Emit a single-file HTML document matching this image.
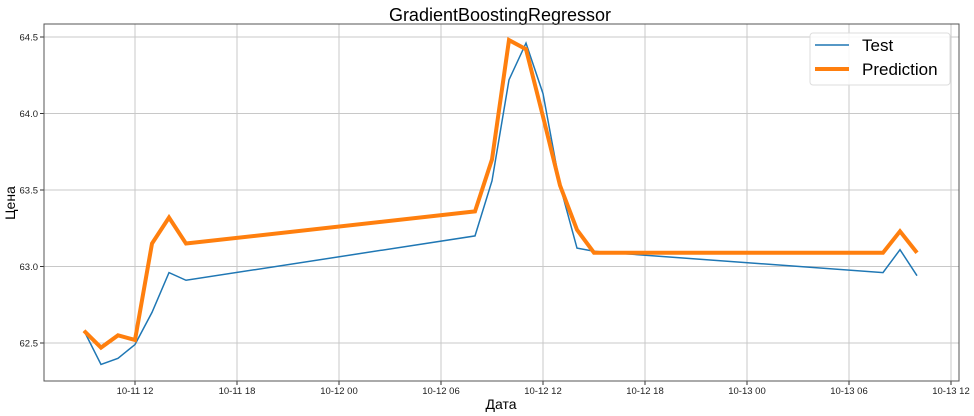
<!DOCTYPE html>
<html><head><meta charset="utf-8"><style>
body{margin:0;background:#fff;}
svg{font-family:"Liberation Sans","DejaVu Sans",sans-serif;display:block}
</style></head><body>
<svg id="chart" width="974" height="416">
<text x="500" y="21" text-anchor="middle" font-size="18">GradientBoostingRegressor</text>
<g id="grid"></g>
<g id="series"></g>
<rect x="44" y="24" width="915" height="357" fill="none" stroke="#555" stroke-width="1"/>
<text x="501" y="409" text-anchor="middle" font-size="14">Дата</text>
<text transform="translate(15,203) rotate(-90)" text-anchor="middle" font-size="14">Цена</text>
<g>
<rect x="810" y="33" width="140" height="52" rx="3" fill="#fff" fill-opacity="0.85" stroke="#ddd"/>
<line x1="815" y1="45" x2="849" y2="45" stroke="#1f77b4" stroke-width="1.5"/>
<text x="862" y="51" font-size="17">Test</text>
<line x1="815" y1="69" x2="849" y2="69" stroke="#ff7f0e" stroke-width="4"/>
<text x="862" y="75" font-size="17">Prediction</text>
</g>
</svg>
<script>
const hours = [-3,-2,-1,0,1,2,3,20,21,22,23,24,25,26,27,28,44,45,46];
const testValues = [62.58,62.36,62.40,62.49,62.70,62.96,62.91,63.20,63.56,64.22,64.46,64.13,63.53,63.12,63.10,63.09,62.96,63.11,62.94];
const predValues = [62.58,62.47,62.55,62.52,63.15,63.32,63.15,63.36,63.70,64.48,64.42,63.98,63.53,63.24,63.09,63.09,63.09,63.23,63.09];
const yTicks = [62.5,63.0,63.5,64.0,64.5];
const xTickHours = [0,6,12,18,24,30,36,42,48];
const xTickLabels = ["10-11 12","10-11 18","10-12 00","10-12 06","10-12 12","10-12 18","10-13 00","10-13 06","10-13 12"];
const NS="http://www.w3.org/2000/svg";
const xs=h=>135+h*17;
const ys=v=>343-(v-62.5)*153;
const grid=document.getElementById('grid');
function mk(tag,attrs,parent){const e=document.createElementNS(NS,tag);for(const k in attrs)e.setAttribute(k,attrs[k]);parent.appendChild(e);return e;}
yTicks.forEach(v=>{
 const l=mk('line',{x1:44,x2:959,y1:ys(v),y2:ys(v),stroke:'#c8c8c8','stroke-width':1},grid);
 
 
 mk('line',{x1:40,x2:44,y1:ys(v),y2:ys(v),stroke:'#333'},grid);
 const t=mk('text',{x:38,y:ys(v)+3.5,'text-anchor':'end','font-size':'9.5',fill:'#222'},grid);
 t.textContent=v.toFixed(1);
 
 
});
xTickHours.forEach((h,i)=>{
 const l=mk('line',{x1:xs(h),x2:xs(h),y1:24,y2:381,stroke:'#c8c8c8','stroke-width':1},grid);
 
 
 mk('line',{x1:xs(h),x2:xs(h),y1:381,y2:385,stroke:'#333'},grid);
 const t=mk('text',{x:xs(h),y:394,'text-anchor':'middle','font-size':'9.5',fill:'#222'},grid);
 t.textContent=xTickLabels[i];
 
 
});
const ser=document.getElementById('series');
const tp=mk('polyline',{points:hours.map((h,i)=>xs(h)+','+ys(testValues[i])).join(' '),fill:'none',stroke:'#1f77b4','stroke-width':1.5},ser);


const pp=mk('polyline',{points:hours.map((h,i)=>xs(h)+','+ys(predValues[i])).join(' '),fill:'none',stroke:'#ff7f0e','stroke-width':4,'stroke-linejoin':'miter'},ser);


</script>
</body></html>
